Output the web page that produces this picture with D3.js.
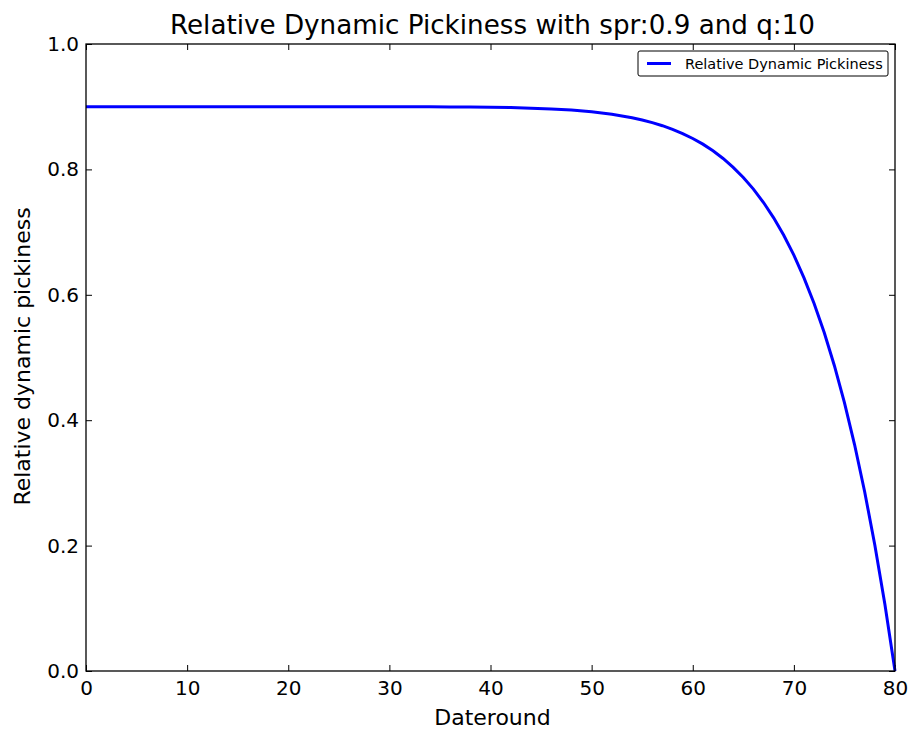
<!DOCTYPE html>
<html>
<head>
<meta charset="utf-8">
<script src="https://cdn.jsdelivr.net/npm/d3@7"></script>
<style>
  body { margin: 0; background: #fff; }
  text { font-family: "DejaVu Sans", sans-serif; }
</style>
</head>
<body>
<svg width="913" height="731"></svg>
<script>
// Data
var dateround = [0, 10, 20, 30, 34, 36, 38, 40, 42, 44, 46, 48, 50, 52, 54, 55, 56, 57, 58, 59, 60,
                 61, 62, 63, 64, 65, 66, 67, 68, 69, 70, 71, 72, 73, 74, 75, 76, 77, 78, 79, 80];
var pickiness = [0.9, 0.9, 0.9, 0.9, 0.8998, 0.8997, 0.8995, 0.8991, 0.8986, 0.8977, 0.8964,
                 0.8946, 0.8918, 0.8879, 0.8823, 0.8788, 0.8746, 0.8697, 0.8639, 0.8572, 0.8493,
                 0.8403, 0.8296, 0.8175, 0.8033, 0.7871, 0.7686, 0.7472, 0.7228, 0.6950, 0.6632,
                 0.6270, 0.5862, 0.5398, 0.4873, 0.4280, 0.3612, 0.2860, 0.2013, 0.1064, 0.0];
var xTicks = [0, 10, 20, 30, 40, 50, 60, 70, 80];
var yTicks = [0.0, 0.2, 0.4, 0.6, 0.8, 1.0];

var svg = d3.select("svg");
var pLeft = 86, pRight = 895, pTop = 44, pBottom = 671;

var x = d3.scaleLinear().domain([0, 80]).range([pLeft, pRight]);
var y = d3.scaleLinear().domain([0, 1]).range([pBottom, pTop]);

// Axes with inward ticks on all four sides
svg.append("g")
  .attr("transform", "translate(0," + pBottom + ")")
  .call(d3.axisBottom(x).tickValues(xTicks).tickSizeInner(-6).tickSizeOuter(0).tickPadding(10).tickFormat(d3.format("d")))
  .call(function(g) { g.select(".domain").remove(); })
  .selectAll("text").attr("font-size", "20px").attr("fill", "#000");

svg.append("g")
  .attr("transform", "translate(0," + pTop + ")")
  .call(d3.axisTop(x).tickValues(xTicks).tickSizeInner(-6).tickSizeOuter(0).tickFormat(""))
  .call(function(g) { g.select(".domain").remove(); });

svg.append("g")
  .attr("transform", "translate(" + pLeft + ",0)")
  .call(d3.axisLeft(y).tickValues(yTicks).tickSizeInner(-6).tickSizeOuter(0).tickPadding(7).tickFormat(d3.format(".1f")))
  .call(function(g) { g.select(".domain").remove(); })
  .selectAll("text").attr("font-size", "20px").attr("fill", "#000");

svg.append("g")
  .attr("transform", "translate(" + pRight + ",0)")
  .call(d3.axisRight(y).tickValues(yTicks).tickSizeInner(-6).tickSizeOuter(0).tickFormat(""))
  .call(function(g) { g.select(".domain").remove(); });

svg.selectAll(".tick line").attr("stroke", "#000");

// The line
var line = d3.line()
  .x(function(d, i) { return x(dateround[i]); })
  .y(function(d) { return y(d); });

svg.append("path")
  .datum(pickiness)
  .attr("fill", "none")
  .attr("stroke", "#0000ff")
  .attr("stroke-width", 3)
  .attr("d", line);

// Frame
svg.append("rect")
  .attr("x", pLeft).attr("y", pTop)
  .attr("width", pRight - pLeft).attr("height", pBottom - pTop)
  .attr("fill", "none").attr("stroke", "#000").attr("stroke-width", 1.3);

// Title and labels
svg.append("text")
  .attr("x", (pLeft + pRight) / 2 + 2).attr("y", 34)
  .attr("text-anchor", "middle").attr("font-size", "26.2px")
  .text("Relative Dynamic Pickiness with spr:0.9 and q:10");

svg.append("text")
  .attr("x", (pLeft + pRight) / 2 + 2).attr("y", 725)
  .attr("text-anchor", "middle").attr("font-size", "22px")
  .text("Dateround");

svg.append("text")
  .attr("transform", "translate(30," + ((pTop + pBottom) / 2 - 1) + ") rotate(-90)")
  .attr("text-anchor", "middle").attr("font-size", "22px")
  .text("Relative dynamic pickiness");

// Legend
var lg = svg.append("g");
lg.append("rect")
  .attr("x", 638).attr("y", 51).attr("width", 250).attr("height", 25)
  .attr("rx", 2).attr("fill", "#fff").attr("stroke", "#000").attr("stroke-width", 1);
lg.append("line")
  .attr("x1", 647).attr("x2", 671).attr("y1", 63.5).attr("y2", 63.5)
  .attr("stroke", "#0000ff").attr("stroke-width", 3);
lg.append("text")
  .attr("x", 685).attr("y", 68.5).attr("font-size", "14.5px")
  .text("Relative Dynamic Pickiness");
</script>
</body>
</html>
